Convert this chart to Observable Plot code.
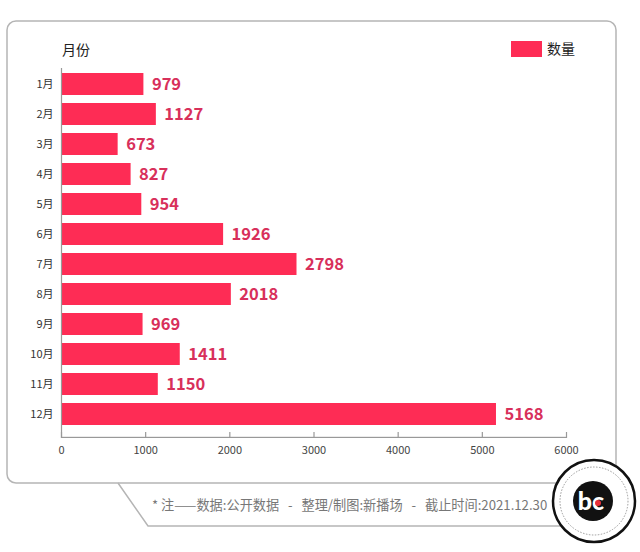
<!DOCTYPE html>
<html>
<head>
<meta charset="utf-8">
<script src="https://cdn.jsdelivr.net/npm/d3@7"></script>
<script src="https://cdn.jsdelivr.net/npm/@observablehq/plot@0.6"></script>
<style>
  body { margin: 0; background: #fff; font-family: "Noto Sans CJK SC", "Noto Sans", sans-serif; }
  #wrap { position: relative; width: 640px; height: 552px; overflow: hidden; }
  #bg { position: absolute; left: 0; top: 0; }
  #chart { position: absolute; left: 0; top: 0; }
  .lbl { position: absolute; font-size: 14px; color: #222; white-space: pre; line-height: 1; }
  #swatch { position: absolute; left: 511px; top: 41px; width: 31px; height: 16px; background: #fe2c55; }
  #caption { position: absolute; left: 152px; top: 496px; font-size: 13.2px; color: #777; white-space: pre; line-height: 1.3; }
</style>
</head>
<body>
<div id="wrap">
  <svg id="bg" width="640" height="552">
    <rect x="7" y="21" width="609" height="462" rx="9" ry="9" fill="#fff" stroke="#b5b5b5" stroke-width="1.5"/>
    <path d="M118,483 L148,526 L560,526" fill="none" stroke="#b5b5b5" stroke-width="1.5"/>
    <circle cx="594" cy="501" r="41" fill="#fff" stroke="#111" stroke-width="2.5"/>
    <circle cx="594" cy="501" r="34" fill="none" stroke="#999" stroke-width="1" stroke-dasharray="1.5,1.5"/>
    <circle cx="593" cy="501" r="20" fill="#111"/>
    <text x="591" y="510" text-anchor="middle" font-family="Lato, sans-serif" font-weight="900" font-size="25" fill="#fff">bc</text>
    <circle cx="598" cy="503" r="3" fill="#e8303a"/>
  </svg>
  <div class="lbl" style="left:62px; top:42px;">月份</div>
  <div id="swatch"></div>
  <div class="lbl" style="left:547px; top:41px;">数量</div>
  <div id="chart"></div>
  <div id="caption">* 注——数据:公开数据   -   整理/制图:新播场   -   截止时间:2021.12.30</div>
</div>
<script>
const months = ["1月","2月","3月","4月","5月","6月","7月","8月","9月","10月","11月","12月"];
const counts = [979, 1127, 673, 827, 954, 1926, 2798, 2018, 969, 1411, 1150, 5168];
const xTicks = [0, 1000, 2000, 3000, 4000, 5000, 6000];

const data = months.map((m, i) => ({month: m, value: counts[i]}));

const barColor = "#fe2c55";
const labelColor = "#d8305b";
const axisColor = "#999";

const plotH = 470, mTop = 62, mBottom = 32;
const innerH = plotH - mTop - mBottom;

const chart = Plot.plot({
  width: 640,
  height: plotH,
  marginLeft: 61,
  marginRight: 74,
  marginTop: mTop,
  marginBottom: mBottom,
  style: {fontFamily: "'Noto Sans CJK SC', 'Noto Sans', sans-serif", background: "transparent", color: "#333"},
  x: {domain: [0, 6000], label: null},
  y: {domain: months, range: [69, 429], paddingInner: 0.267, paddingOuter: 0.1335, label: null},
  marks: [
    Plot.barX(data, {x: "value", y: "month", fill: barColor}),
    Plot.text(data, {x: "value", y: "month", text: d => String(d.value), dx: 8, textAnchor: "start", fontWeight: "bold", fontSize: 16.5, fill: labelColor}),
    Plot.ruleX([0], {stroke: axisColor, strokeWidth: 1.2, insetTop: 6}),
    Plot.rect([0], {x1: 0, x2: 6000, insetTop: innerH - 1.2, fill: axisColor}),
    Plot.tickX(xTicks, {x: d => d, stroke: axisColor, strokeWidth: 1.2, insetTop: innerH - 6}),
    Plot.axisX(xTicks, {anchor: "bottom", tickSize: 0, tickPadding: 8, fontSize: 11, fill: "#444", tickFormat: d => String(d), label: null}),
    Plot.axisY({anchor: "left", tickSize: 0, tickPadding: 8, fontSize: 11, fill: "#333", label: null})
  ]
});
document.getElementById("chart").appendChild(chart);
</script>
</body>
</html>
